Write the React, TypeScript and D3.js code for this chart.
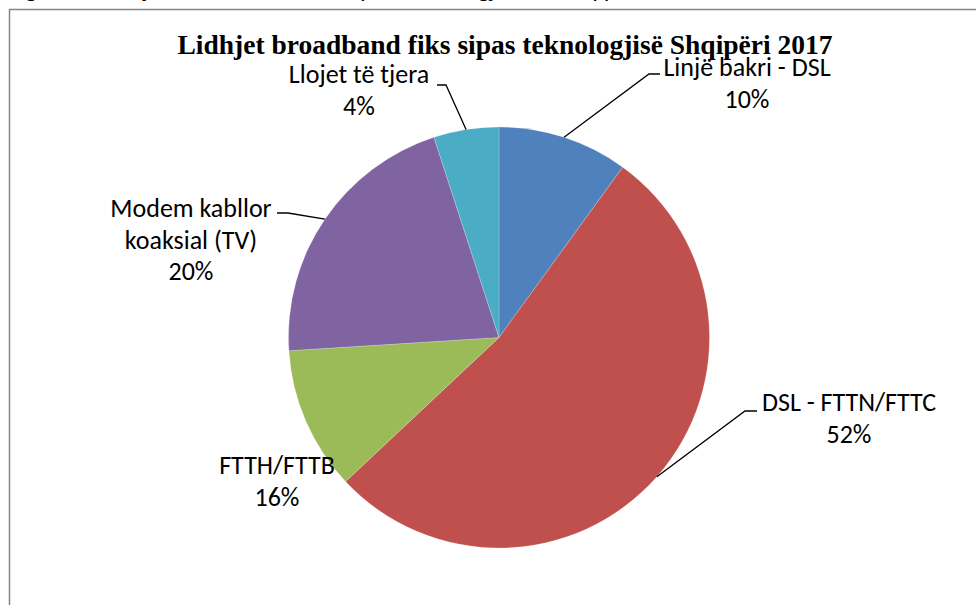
import React, { useEffect, useRef } from "react"
import * as d3 from "d3"

// slices, clockwise from 12 o'clock
const categories = ["Linjë bakri - DSL", "DSL - FTTN/FTTC", "FTTH/FTTB", "Modem kabllor koaksial (TV)", "Llojet të tjera"]
const shares = [10, 53, 11, 21, 5]
const percentLabels = ["10%", "52%", "16%", "20%", "4%"]
const nameLines = [["Linjë bakri - DSL"], ["DSL - FTTN/FTTC"], ["FTTH/FTTB"], ["Modem kabllor", "koaksial (TV)"], ["Llojet të tjera"]]
const colors = ["#4F81BD", "#C0504D", "#9BBB59", "#8064A2", "#4BACC6"]

const title = "Lidhjet broadband fiks sipas teknologjisë Shqipëri 2017"
const caption = "Figura 4. Lidhjet broadband fikse sipas teknologjisë në Shqipëri"

const W = 976
const H = 605

export default function App() {
    const ref = useRef<SVGSVGElement>(null)

    useEffect(() => {
        document.body.style.margin = "0"
        const svg = d3.select(ref.current)
        svg.selectAll("*").remove()

        const cx = 499
        const cy = 337.5
        const r = 210.5
        const labelFont = "Carlito, Lato, 'Open Sans', sans-serif"

        // cut caption line from the page above the chart
        svg.append("text")
            .attr("x", 8)
            .attr("y", -3)
            .attr("font-family", labelFont)
            .attr("font-size", 25)
            .attr("fill", "#000")
            .text(caption)

        // chart frame
        svg.append("rect")
            .attr("x", 9.5)
            .attr("y", 9.5)
            .attr("width", W + 20)
            .attr("height", H + 20)
            .attr("fill", "#fff")
            .attr("stroke", "#858585")
            .attr("stroke-width", 1.5)

        svg.append("text")
            .attr("x", 505)
            .attr("y", 54)
            .attr("text-anchor", "middle")
            .attr("font-family", "'Liberation Serif', 'Times New Roman', serif")
            .attr("font-weight", "bold")
            .attr("font-size", 27.5)
            .attr("fill", "#000")
            .text(title)

        const data = categories.map((c, i) => ({ name: c, value: shares[i], i }))
        const pie = d3.pie<any>().sort(null).value(d => d.value)
        const arcs = pie(data)
        const arc = d3.arc<any>().innerRadius(0).outerRadius(r)

        const g = svg.append("g").attr("transform", `translate(${cx},${cy})`)
        g.selectAll("path")
            .data(arcs)
            .enter()
            .append("path")
            .attr("d", arc)
            .attr("fill", d => colors[d.data.i])
            .attr("stroke", "rgba(255,255,255,0.5)")
            .attr("stroke-width", 0.4)

        // label anchors (text centre x, first baseline) and leader knees
        const labelPos = [
            { x: 747, y: 76, knee: [[649, 74], [660, 74]] },
            { x: 849, y: 411, knee: [[745, 411], [757, 411]] },
            { x: 277, y: 474, knee: null },
            { x: 191, y: 217, knee: [[288, 213], [277, 213]] },
            { x: 359, y: 83, knee: [[446, 85], [437, 85]] },
        ]

        arcs.forEach((a, k) => {
            const pos = labelPos[k]
            if (pos.knee) {
                const mid = (a.startAngle + a.endAngle) / 2
                const ex = cx + r * Math.sin(mid)
                const ey = cy - r * Math.cos(mid)
                const pts: [number, number][] = [[ex, ey], pos.knee[0] as [number, number], pos.knee[1] as [number, number]]
                svg.append("path")
                    .attr("d", d3.line()(pts))
                    .attr("fill", "none")
                    .attr("stroke", "#000")
                    .attr("stroke-width", 1.3)
            }
            const lines = [...nameLines[k], percentLabels[k]]
            const t = svg.append("text")
                .attr("text-anchor", "middle")
                .attr("font-family", labelFont)
                .attr("font-size", 26)
                .attr("fill", "#000")
            lines.forEach((ln, j) => {
                t.append("tspan")
                    .attr("x", pos.x)
                    .attr("y", pos.y + j * 31.5)
                    .text(ln)
            })
        })
    }, [])

    return (
        <svg
            ref={ref}
            width={W}
            height={H}
            style={{ position: "absolute", left: 0, top: 0, background: "#fff" }}
        />
    )
}
